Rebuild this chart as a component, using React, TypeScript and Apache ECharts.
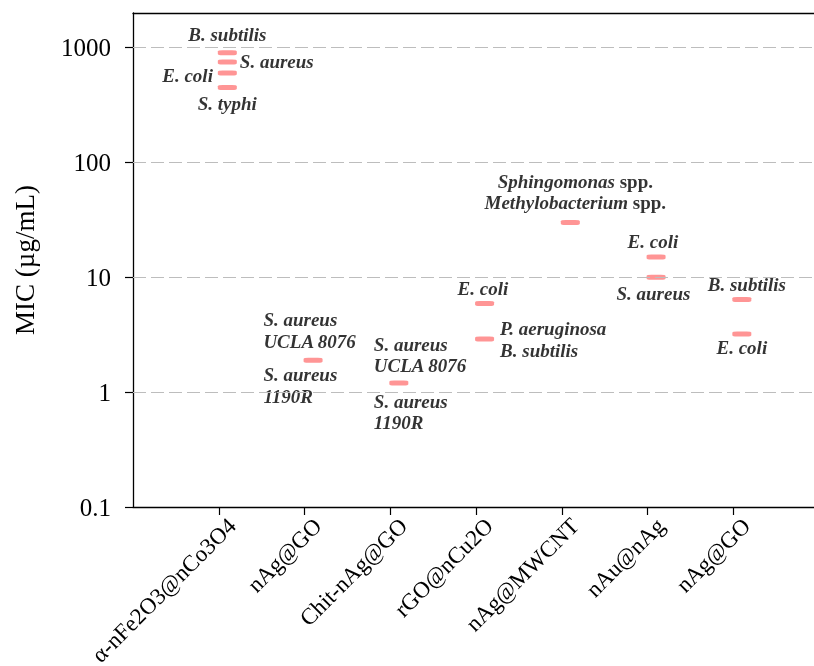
import React, { useEffect, useRef } from 'react';
import * as echarts from 'echarts';

// ---------- data ----------
const CATEGORIES = ['α-nFe2O3@nCo3O4', 'nAg@GO', 'Chit-nAg@GO', 'rGO@nCu2O', 'nAg@MWCNT', 'nAu@nAg', 'nAg@GO'];
const Y_TICKS = [0.1, 1, 10, 100, 1000];
const Y_TICK_LABELS = ['0.1', '1', '10', '100', '1000'];
const GRID_VALUES = [1, 10, 100, 1000];
const Y_MIN = 0.1;
const Y_MAX = 2000;

// MIC markers: category index and value (µg/mL)
const MIC_CATEGORY = [0, 0, 0, 0, 1, 2, 3, 3, 4, 5, 5, 6, 6];
const MIC_VALUES = [900, 750, 600, 450, 1.9, 1.2, 5.9, 2.9, 30, 15, 10, 6.4, 3.2];

// Organism annotations and the marker each belongs to
const LABEL_TEXTS = [
  'B. subtilis',
  'S. aureus',
  'E. coli',
  'S. typhi',
  'S. aureus\nUCLA 8076',
  'S. aureus\n1190R',
  'S. aureus\nUCLA 8076',
  'S. aureus\n1190R',
  'E. coli',
  'P. aeruginosa\nB. subtilis',
  'Sphingomonas{n| spp.}\nMethylobacterium{n| spp.}',
  'E. coli',
  'S. aureus',
  'B. subtilis',
  'E. coli',
];
const LABEL_MARKER = [0, 1, 2, 3, 4, 4, 5, 5, 6, 7, 8, 9, 10, 11, 12];

// ---------- layout / style ----------
const DODGE = 0.1;
const X_LABEL_SHIFT = 0.06;
const LABEL_PLACEMENT: { dx: number; dy: number; align: string }[] = [
  { dx: 0, dy: -18, align: 'center' },
  { dx: 12.5, dy: -0.5, align: 'left' },
  { dx: -14.4, dy: 2, align: 'right' },
  { dx: 0, dy: 16, align: 'center' },
  { dx: -49.7, dy: -29.5, align: 'left' },
  { dx: -49.7, dy: 25.5, align: 'left' },
  { dx: -25, dy: -27.8, align: 'left' },
  { dx: -25, dy: 29, align: 'left' },
  { dx: -1.7, dy: -15.6, align: 'center' },
  { dx: 15.5, dy: 0.3, align: 'left' },
  { dx: 5, dy: -30.3, align: 'center' },
  { dx: -3.2, dy: -15.3, align: 'center' },
  { dx: -2.7, dy: 15.8, align: 'center' },
  { dx: 5, dy: -14.6, align: 'center' },
  { dx: 0, dy: 13.5, align: 'center' },
];

const FONT = 'Liberation Serif';
const MARKER_COLOR = '#ff7a7a';

export default function App() {
  const ref = useRef<HTMLDivElement>(null);

  useEffect(() => {
    const chart = echarts.init(ref.current!, null, { renderer: 'svg' });
    const lg = (v: number) => Math.log10(v);
    const catPos = CATEGORIES.map((_, i) => i + 1);

    const markerData = MIC_VALUES.map((v, i) => [MIC_CATEGORY[i] + 1 + DODGE, lg(v)]);
    const labelData = LABEL_TEXTS.map((t, i) => {
      const m = LABEL_MARKER[i];
      const p = LABEL_PLACEMENT[i];
      return {
        value: [MIC_CATEGORY[m] + 1 + DODGE, lg(MIC_VALUES[m])],
        label: { formatter: t, offset: [p.dx, p.dy], align: p.align },
      };
    });

    chart.setOption({
      animation: false,
      grid: { left: 133, top: 13, width: 686, height: 494, outerBoundsMode: 'none', containLabel: false },
      xAxis: [
        {
          type: 'value',
          min: 0,
          max: 8,
          interval: 1,
          position: 'bottom',
          axisLine: { show: true, onZero: false, lineStyle: { color: '#000', width: 1.3 } },
          axisTick: { show: true, customValues: catPos, length: 8, lineStyle: { color: '#000', width: 1.2 } },
          axisLabel: {
            customValues: catPos.map((p) => p + X_LABEL_SHIFT),
            formatter: (v: number) => CATEGORIES[Math.round(v) - 1] ?? '',
            rotate: 45,
            align: 'right',
            verticalAlign: 'top',
            margin: 7,
            fontFamily: FONT,
            fontSize: 23,
            color: '#000',
          },
          splitLine: { show: false },
        },
        {
          type: 'value',
          min: 0,
          max: 8,
          position: 'top',
          axisLine: { show: true, onZero: false, lineStyle: { color: '#000', width: 1.3 } },
          axisTick: { show: false },
          axisLabel: { show: false },
          splitLine: { show: false },
        },
      ],
      yAxis: {
        type: 'value',
        min: lg(Y_MIN),
        max: lg(Y_MAX),
        interval: 1,
        name: 'MIC (µg/mL)',
        nameLocation: 'middle',
        nameGap: 95,
        nameTextStyle: { fontFamily: FONT, fontSize: 27, color: '#000' },
        axisLine: { show: true, onZero: false, lineStyle: { color: '#000', width: 1.3 } },
        axisTick: { show: true, customValues: Y_TICKS.map(lg), length: 8, lineStyle: { color: '#000', width: 1.2 } },
        axisLabel: {
          customValues: Y_TICKS.map(lg),
          formatter: (v: number) => Y_TICK_LABELS[Math.round(v) + 1] ?? '',
          margin: 22,
          fontFamily: FONT,
          fontSize: 25,
          color: '#000',
        },
        splitLine: { show: false },
      },
      series: [
        {
          type: 'scatter',
          z: 1,
          data: [],
          markLine: {
            silent: true,
            symbol: 'none',
            label: { show: false },
            lineStyle: { color: '#bdbdbd', type: [13, 5], width: 1 },
            data: GRID_VALUES.map((v) => ({ yAxis: lg(v) })),
          },
        },
        {
          type: 'scatter',
          z: 3,
          symbol: 'roundRect',
          symbolSize: [19, 5],
          itemStyle: { color: MARKER_COLOR },
          data: markerData,
        },
        {
          type: 'scatter',
          z: 4,
          symbolSize: 0,
          itemStyle: { color: '#000' },
          data: labelData,
          label: {
            show: true,
            position: 'inside',
            verticalAlign: 'middle',
            fontFamily: FONT,
            fontSize: 19,
            fontWeight: 'bold',
            fontStyle: 'italic',
            color: '#000',
            textBorderWidth: 0,
            textBorderColor: 'transparent',
            lineHeight: 21.5,
            rich: {
              n: {
                fontFamily: FONT,
                fontSize: 19,
                fontWeight: 'bold',
                fontStyle: 'normal',
                color: '#000',
                textBorderWidth: 0,
                textBorderColor: 'transparent',
                lineHeight: 21.5,
              },
            },
          },
        },
      ],
    });

    return () => chart.dispose();
  }, []);

  return <div ref={ref} style={{ position: 'fixed', left: 0, top: 0, width: 814, height: 666 }} />;
}
